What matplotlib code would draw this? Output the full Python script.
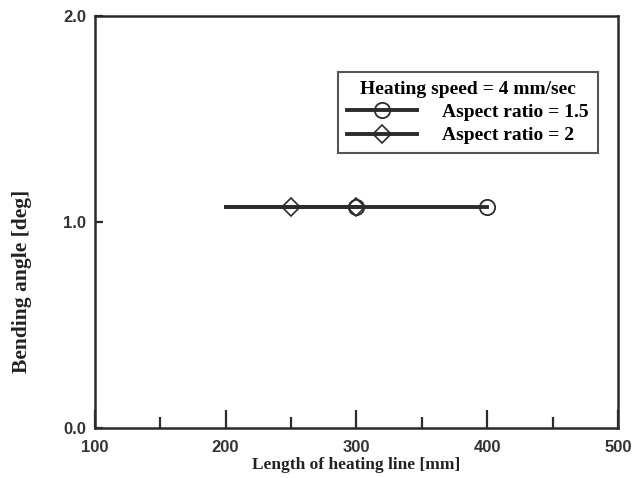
import matplotlib.pyplot as plt
from matplotlib.ticker import MultipleLocator

# data
x_ar15 = [200, 300, 400]
y_ar15 = [1.07, 1.07, 1.07]
x_ar2 = [200, 250, 300]
y_ar2 = [1.07, 1.07, 1.07]

x_labels = [100, 200, 300, 400, 500]
y_labels = [0.0, 1.0, 2.0]

ink = "#2b2b2b"
serif = "Liberation Serif"
sans = "Liberation Sans"


def main():
    fig = plt.figure(figsize=(6.4, 4.78), dpi=100)
    ax = fig.add_axes([0.148, 0.105, 0.818, 0.862])

    ax.plot(x_ar15, y_ar15, color=ink, lw=2.8, marker="o", ms=11,
            mfc="none", mec=ink, mew=1.3, markevery=[1, 2],
            label="Aspect ratio = 1.5")
    ax.plot(x_ar2, y_ar2, color=ink, lw=2.8, marker="D", ms=9,
            mfc="none", mec=ink, mew=1.2, markevery=[1, 2],
            label="Aspect ratio = 2")

    ax.set_xlim(100, 500)
    ax.set_ylim(0, 2)
    ax.set_xticks(x_labels)
    ax.xaxis.set_minor_locator(MultipleLocator(50))
    ax.set_yticks(y_labels)
    ax.set_xticklabels([str(v) for v in x_labels])
    ax.set_yticklabels([f"{v:.1f}" for v in y_labels])

    ax.tick_params(axis="x", which="major", direction="in", length=13,
                   width=1.6, color=ink, pad=9)
    ax.tick_params(axis="x", which="minor", direction="in", length=8,
                   width=1.6, color=ink)
    ax.tick_params(axis="y", direction="in", length=6, width=1.6,
                   color=ink, pad=6)
    for lab in ax.get_xticklabels() + ax.get_yticklabels():
        lab.set_fontfamily(sans)
        lab.set_fontweight("bold")
        lab.set_fontsize(12)
        lab.set_color("#333333")

    for s in ax.spines.values():
        s.set_linewidth(1.8)
        s.set_color(ink)

    ax.set_xlabel("Length of heating line [mm]", fontfamily=serif,
                  fontweight="bold", fontsize=12.5, color="#222222")
    ax.set_ylabel("Bending angle [deg]", fontfamily=serif,
                  fontweight="bold", fontsize=15.5, color="#222222")
    ax.xaxis.set_label_coords(0.5, -0.072)
    ax.yaxis.set_label_coords(-0.12, 0.355)

    leg = ax.legend(title="Heating speed = 4 mm/sec", loc="upper left",
                    bbox_to_anchor=(0.465, 0.864), borderaxespad=0,
                    frameon=True, fancybox=False, edgecolor=ink,
                    handlelength=3.6, borderpad=0.45, labelspacing=0.3,
                    handletextpad=1.3,
                    prop={"family": serif, "weight": "bold", "size": 14})
    leg.get_frame().set_linewidth(1.5)
    leg.get_title().set_fontfamily(serif)
    leg.get_title().set_fontweight("bold")
    leg.get_title().set_fontsize(14)

    fig.savefig("out.png", dpi=100)


if __name__ == "__main__":
    main()
